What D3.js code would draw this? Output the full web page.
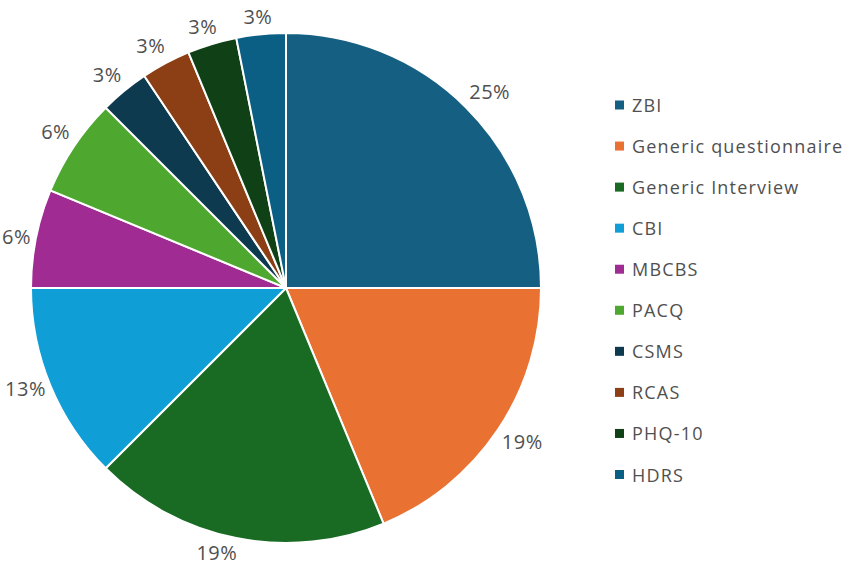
<!DOCTYPE html>
<html>
<head>
    <meta charset="utf-8">
    <script src="https://d3js.org/d3.v7.min.js"></script>
    <style>
        body { margin: 0; background: #fff; }
        svg { display: block; font-family: "Open Sans", sans-serif; }
    </style>
</head>
<body>
    <svg width="851" height="565"></svg>
    <script>
        // instruments and how many studies used each (out of 32)
        const categories = ["ZBI", "Generic questionnaire", "Generic Interview", "CBI", "MBCBS",
            "PACQ", "CSMS", "RCAS", "PHQ-10", "HDRS"];
        const counts = [8, 6, 6, 4, 2, 2, 1, 1, 1, 1];
        const colors = ["#156082", "#e97132", "#196b24", "#0f9ed5", "#a02b93",
            "#4ea72e", "#0d3a4e", "#8c3f14", "#0f4016", "#0b5f84"];

        const svg = d3.select("svg");
        const cx = 286, cy = 288, radius = 255;
        const total = d3.sum(counts);
        const data = categories.map((c, i) => ({ name: c, value: counts[i], color: colors[i] }));

        const pie = d3.pie().sort(null).value(d => d.value);
        const arc = d3.arc().innerRadius(0).outerRadius(radius);
        const arcs = pie(data);

        const g = svg.append("g").attr("transform", `translate(${cx},${cy})`);

        g.selectAll("path")
            .data(arcs)
            .enter().append("path")
            .attr("d", arc)
            .attr("fill", d => d.data.color)
            .attr("stroke", "#fff")
            .attr("stroke-width", 2);

        // percentage labels: the label box is hung off a point just outside the rim,
        // on the side facing the pie (like "outside end" labels)
        const labels = g.selectAll("text.pct")
            .data(arcs)
            .enter().append("text")
            .attr("class", "pct")
            .attr("text-anchor", "middle")
            .attr("dominant-baseline", "central")
            .attr("font-size", 20)
            .attr("letter-spacing", 0.5)
            .attr("fill", "#505050")
            .text(d => Math.round(d.data.value / total * 100) + "%");

        const clamp = v => Math.max(-1, Math.min(1, v));
        labels.each(function(d) {
            const w = this.getBBox().width;
            const a = (d.startAngle + d.endAngle) / 2;
            const ux = Math.sin(a), uy = -Math.cos(a);
            const px = ux * (radius + 7), py = uy * (radius + 7);
            const up = uy < 0;
            const sx = clamp(ux * (up ? 2 : 5));
            const sy = Math.sign(uy) * Math.max(0, Math.min(1, (Math.abs(uy) - 0.4) / 0.15));
            d3.select(this)
                .attr("x", px + sx * (w / 2 - 2))
                .attr("y", py + sy * (up ? 11 : 7.5));
        });

        // legend
        const legendY = d3.scalePoint().domain(categories).range([105, 474.5]);
        const legend = svg.append("g").selectAll("g")
            .data(data)
            .enter().append("g")
            .attr("transform", d => `translate(615,${legendY(d.name)})`);

        legend.append("rect")
            .attr("x", 0).attr("y", -4.5)
            .attr("width", 9).attr("height", 9)
            .attr("fill", d => d.color);

        legend.append("text")
            .attr("x", 17)
            .attr("dominant-baseline", "central")
            .attr("font-size", 18)
            .attr("letter-spacing", 1.2)
            .attr("fill", "#505050")
            .text(d => d.name);
    </script>
</body>
</html>
